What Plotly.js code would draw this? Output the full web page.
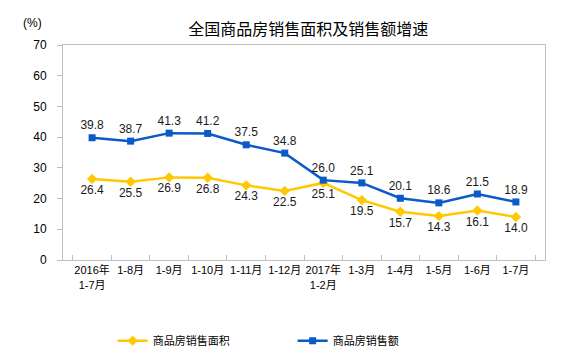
<!DOCTYPE html>
<html><head><meta charset="utf-8">
<script src="https://cdn.plot.ly/plotly-3.0.1.min.js"></script>
<style>body{margin:0}#c{width:575px;height:360px}</style>
</head><body><div id="c"></div>
<script>
const categories = ["2016年<br>1-7月","1-8月","1-9月","1-10月","1-11月","1-12月","2017年<br>1-2月","1-3月","1-4月","1-5月","1-6月","1-7月"];
const areaGrowth = [26.4,25.5,26.9,26.8,24.3,22.5,25.1,19.5,15.7,14.3,16.1,14.0];
const salesGrowth = [39.8,38.7,41.3,41.2,37.5,34.8,26.0,25.1,20.1,18.6,21.5,18.9];
const yTicks = [0,10,20,30,40,50,60,70];

const lblFont = {family:"Liberation Sans, Arial, sans-serif", size:12, color:"#1a1a1a"};
const traces = [
  {x:categories, y:areaGrowth, name:"商品房销售面积", type:"scatter", mode:"lines+markers+text",
   line:{color:"#FFC800", width:2.5}, marker:{symbol:"diamond", size:8, color:"#FFC800"},
   text:areaGrowth.map(v=>v.toFixed(1)), textposition:"bottom center", textfont:lblFont, cliponaxis:false},
  {x:categories, y:salesGrowth, name:"商品房销售额", type:"scatter", mode:"lines+markers+text",
   line:{color:"#0A5AC8", width:2.5}, marker:{symbol:"square", size:7, color:"#0A5AC8"},
   text:salesGrowth.map(v=>v.toFixed(1)), textposition:"top center", textfont:lblFont, cliponaxis:false}
];
const layout = {
  width:575, height:360, margin:{l:63, r:30, t:45, b:100, autoexpand:false},
  paper_bgcolor:"#fff", plot_bgcolor:"#fff", showlegend:true,
  title:{text:"全国商品房销售面积及销售额增速", x:0.536, xanchor:"center", y:0.917, yanchor:"middle",
    font:{family:"Noto Sans CJK SC", size:16, color:"#000"}},
  xaxis:{type:"category", showline:true, linecolor:"#BFBFBF", linewidth:1, mirror:true,
    ticks:"inside", tickson:"boundaries", ticklen:5, tickcolor:"#BFBFBF", showgrid:false, zeroline:false,
    tickfont:{family:"Liberation Sans, Noto Sans CJK SC", size:11, color:"#000"}, tickangle:0, fixedrange:true},
  yaxis:{range:[0,70], tickvals:yTicks, showline:true, linecolor:"#BFBFBF", linewidth:1, mirror:true,
    ticks:"outside", ticklen:5, tickcolor:"#BFBFBF", showgrid:false, zeroline:false,
    ticklabelstandoff:8,
    tickfont:{family:"Liberation Sans, Arial, sans-serif", size:12, color:"#000"}},
  legend:{orientation:"h", x:0.103, xanchor:"left", y:-0.375, yanchor:"middle",
    font:{family:"Noto Sans CJK SC", size:11, color:"#000"}, itemwidth:30,
    entrywidth:135, entrywidthmode:"pixels", traceorder:"normal"},
  annotations:[{text:"(%)", xref:"paper", yref:"paper", x:-0.064, y:1.1, xanchor:"center", yanchor:"middle",
    showarrow:false, font:{family:"Liberation Sans, Arial, sans-serif", size:12, color:"#000"}}]
};
Plotly.newPlot("c", traces, layout, {displayModeBar:false, staticPlot:true});
</script></body></html>
